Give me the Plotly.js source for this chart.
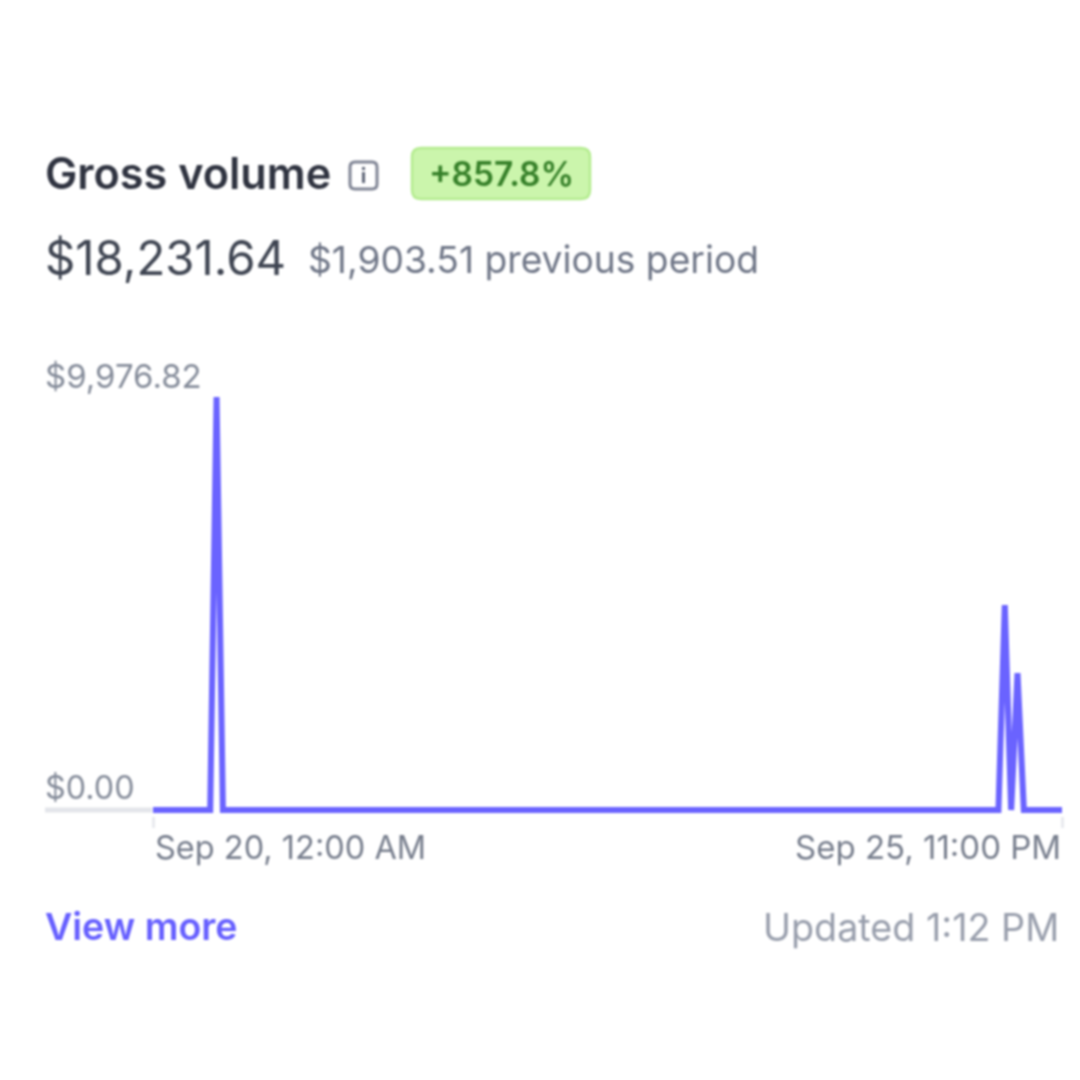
<!DOCTYPE html>
<html>
<head>
<meta charset="utf-8">
<script src="https://cdn.plot.ly/plotly-3.0.1.min.js"></script>
<style>html,body{margin:0;padding:0;background:#fff}#chart{width:1080px;height:1080px;filter:blur(1.1px)}</style>
</head>
<body>
<div id="chart"></div>
<script>
const times = ["2023-09-20 00:00","2023-09-20 09:00","2023-09-20 10:00","2023-09-20 11:00",
  "2023-09-25 13:00","2023-09-25 14:00","2023-09-25 15:00","2023-09-25 16:00","2023-09-25 17:00","2023-09-25 23:00"];
const volume = [0,0,9976.82,0,0,4950,0,3304.82,0,0];
const yLabels = ["$9,976.82","$0.00"];
const xLabels = ["Sep 20, 12:00 AM","Sep 25, 11:00 PM"];
const xRange = ["2023-09-19 23:50:34","2023-09-25 23:09:26"];
const yRange = [-145,10121.8];
const L=152,R=1063,T=391,B=816;
const px=x=>(x-L)/(R-L), py=y=>(B-y)/(B-T);
const FONT='Inter, "Noto Sans", sans-serif';
function rr(x0,y0,x1,y1,r){
  const X=px,Y=py;
  return `M ${X(x0+r)} ${Y(y0)} L ${X(x1-r)} ${Y(y0)} Q ${X(x1)} ${Y(y0)} ${X(x1)} ${Y(y0+r)} L ${X(x1)} ${Y(y1-r)} Q ${X(x1)} ${Y(y1)} ${X(x1-r)} ${Y(y1)} L ${X(x0+r)} ${Y(y1)} Q ${X(x0)} ${Y(y1)} ${X(x0)} ${Y(y1-r)} L ${X(x0)} ${Y(y0+r)} Q ${X(x0)} ${Y(y0)} ${X(x0+r)} ${Y(y0)} Z`;
}
function txt(text,x,y,size,color,anchor,weight){
  const dx=(anchor==='right')?2:-2;
  return {text,x:px(x+dx),y:py(y),xref:'paper',yref:'paper',xanchor:anchor||'left',yanchor:'middle',showarrow:false,
    borderpad:0,font:{family:FONT,size,color,weight:weight||400}};
}
const shapes=[
  {type:'line',xref:'paper',yref:'paper',x0:px(45),x1:px(152),y0:py(810),y1:py(810),line:{color:'#e3e5ea',width:5},layer:'below'},
  {type:'path',xref:'paper',yref:'paper',path:rr(412,148,590,199,9),fillcolor:'#cbf5ac',line:{color:'#b4ec8f',width:2.5}},
  {type:'path',xref:'paper',yref:'paper',path:rr(350,162,377,189,5),fillcolor:'rgba(0,0,0,0)',line:{color:'#7f8494',width:3}},
  {type:'line',xref:'paper',yref:'paper',x0:px(363.5),x1:px(363.5),y0:py(172),y1:py(183),line:{color:'#5f6677',width:3}},
  {type:'line',xref:'paper',yref:'paper',x0:px(363.5),x1:px(363.5),y0:py(167),y1:py(170),line:{color:'#5f6677',width:3}}
];
const annotations=[
  txt('Gross volume',46,173,43.2,'#2f3340','left',600),
  txt('+857.8%',430,174,33.5,'#368029','left',600),
  txt('$18,231.64',46,257,47.3,'#3f4552','left',400),
  txt('$1,903.51 previous period',309,260,37.2,'#6f7687','left',400),
  txt(yLabels[0],46,376,33,'#858c9a','left',400),
  txt(yLabels[1],46,787,32.3,'#858c9a','left',400),
  txt(xLabels[0],156,847,32.5,'#777e8d','left',400),
  txt(xLabels[1],1060,847,33,'#777e8d','right',400),
  txt('View more',46,926,37.5,'#665fff','left',600),
  txt('Updated 1:12 PM',1058,927,37.7,'#989eac','right',400)
];
const trace={x:times,y:volume,type:'scatter',mode:'lines',line:{color:'#6a63ff',width:6,shape:'linear'},hoverinfo:'skip'};
const layout={
  width:1080,height:1080,paper_bgcolor:'#fff',plot_bgcolor:'rgba(0,0,0,0)',showlegend:false,
  margin:{l:L,r:1080-R,t:T,b:1080-B,pad:0},
  xaxis:{type:'date',range:xRange,tickmode:'array',tickvals:[times[0],times[times.length-1]],
    ticks:'outside',ticklen:11,tickwidth:3,tickcolor:'#e8eaee',showticklabels:false,showgrid:false,zeroline:false,showline:false},
  yaxis:{range:yRange,showgrid:false,zeroline:false,showline:false,showticklabels:false,ticks:''},
  shapes,annotations
};
Plotly.newPlot('chart',[trace],layout,{displayModeBar:false,staticPlot:true});
</script>
</body>
</html>
